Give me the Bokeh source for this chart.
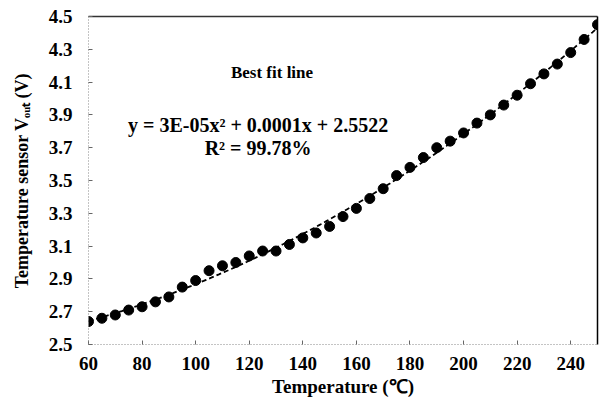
import numpy as np
from bokeh.plotting import figure
from bokeh.models import LinearAxis, Label, FixedTicker, Range1d
from bokeh.embed import file_html
from bokeh.resources import INLINE

temps = [60, 65, 70, 75, 80, 85, 90, 95, 100, 105, 110, 115, 120, 125, 130,
         135, 140, 145, 150, 155, 160, 165, 170, 175, 180, 185, 190, 195, 200,
         205, 210, 215, 220, 225, 230, 235, 240, 245, 250]
vout = [2.64, 2.66, 2.68, 2.71, 2.73, 2.76, 2.79, 2.85, 2.89, 2.95, 2.98, 3.00,
        3.04, 3.07, 3.07, 3.11, 3.15, 3.18, 3.22, 3.28, 3.33, 3.39, 3.45, 3.53,
        3.58, 3.64, 3.70, 3.74, 3.79, 3.85, 3.90, 3.96, 4.02, 4.09, 4.15, 4.21,
        4.28, 4.36, 4.45]
x_ticks = [60, 80, 100, 120, 140, 160, 180, 200, 220, 240]
y_ticks = [2.5, 2.7, 2.9, 3.1, 3.3, 3.5, 3.7, 3.9, 4.1, 4.3, 4.5]
title_text = "Best fit line"
eq_text = "y = 3E-05x² + 0.0001x + 2.5522"
r2_text = "R² = 99.78%"

FONT = "Liberation Serif"

p = figure(width=601, height=399, output_backend="svg", toolbar_location=None,
           x_range=Range1d(60, 250), y_range=Range1d(2.5, 4.5),
           min_border_left=88, min_border_right=4, min_border_top=16,
           min_border_bottom=55)
p.outline_line_color = None
p.xgrid.visible = False
p.ygrid.visible = False
p.background_fill_color = "white"
p.border_fill_color = "white"

for ax in (p.xaxis[0], p.yaxis[0]):
    ax.axis_line_color = "#888888"
    ax.axis_line_dash = "1 2"
    ax.major_tick_in = 4
    ax.major_tick_out = 0
    ax.minor_tick_line_color = None
    ax.major_tick_line_color = "#666666"
    ax.major_label_text_font = FONT
    ax.major_label_text_font_style = "bold"
    ax.major_label_text_font_size = "19px"
    ax.major_label_text_color = "black"
    ax.axis_label_text_font = FONT
    ax.axis_label_text_font_style = "bold"
    ax.axis_label_text_font_size = "19px"
    ax.axis_label_text_color = "black"

p.xaxis[0].ticker = FixedTicker(ticks=x_ticks)
p.yaxis[0].ticker = FixedTicker(ticks=y_ticks)
p.yaxis[0].formatter.use_scientific = False
p.xaxis[0].axis_label = "Temperature (℃)"
p.yaxis[0].axis_label = "Temperature sensor Vₒᵤₜ (V)"
p.yaxis[0].axis_label_text_font_size = "18px"
p.xaxis[0].major_label_standoff = 12
p.yaxis[0].major_label_standoff = 16
p.xaxis[0].axis_label_standoff = 3
p.yaxis[0].axis_label_standoff = 14

top = LinearAxis(axis_line_color="#333333", axis_line_width=1.5, major_tick_line_color=None,
                 minor_tick_line_color=None, ticker=FixedTicker(ticks=[]))
right = LinearAxis(axis_line_color="black", axis_line_width=1.5, major_tick_line_color=None,
                   minor_tick_line_color=None, ticker=FixedTicker(ticks=[]))
p.add_layout(top, "above")
p.add_layout(right, "right")

# quadratic trendline from the data
coef = np.polyfit(temps, vout, 2)
xs = np.linspace(temps[0], temps[-1], 200)
ys = np.polyval(coef, xs)
p.line(xs, ys, line_color="black", line_width=1.8, line_dash="5 3")

p.scatter(temps, vout, size=10, marker="circle", fill_color="black", line_color="black")

for txt, xx, yy, sz in [(title_text, 128.5, 4.16, "17px"), (eq_text, 123.3, 3.84, "20px"),
                        (r2_text, 123.3, 3.70, "20px")]:
    p.add_layout(Label(x=xx, y=yy, text=txt, text_font=FONT, text_font_style="bold",
                       text_font_size=sz, text_align="center", text_baseline="middle",
                       text_color="black"))

open("out.html", "w").write(file_html(p, INLINE))
